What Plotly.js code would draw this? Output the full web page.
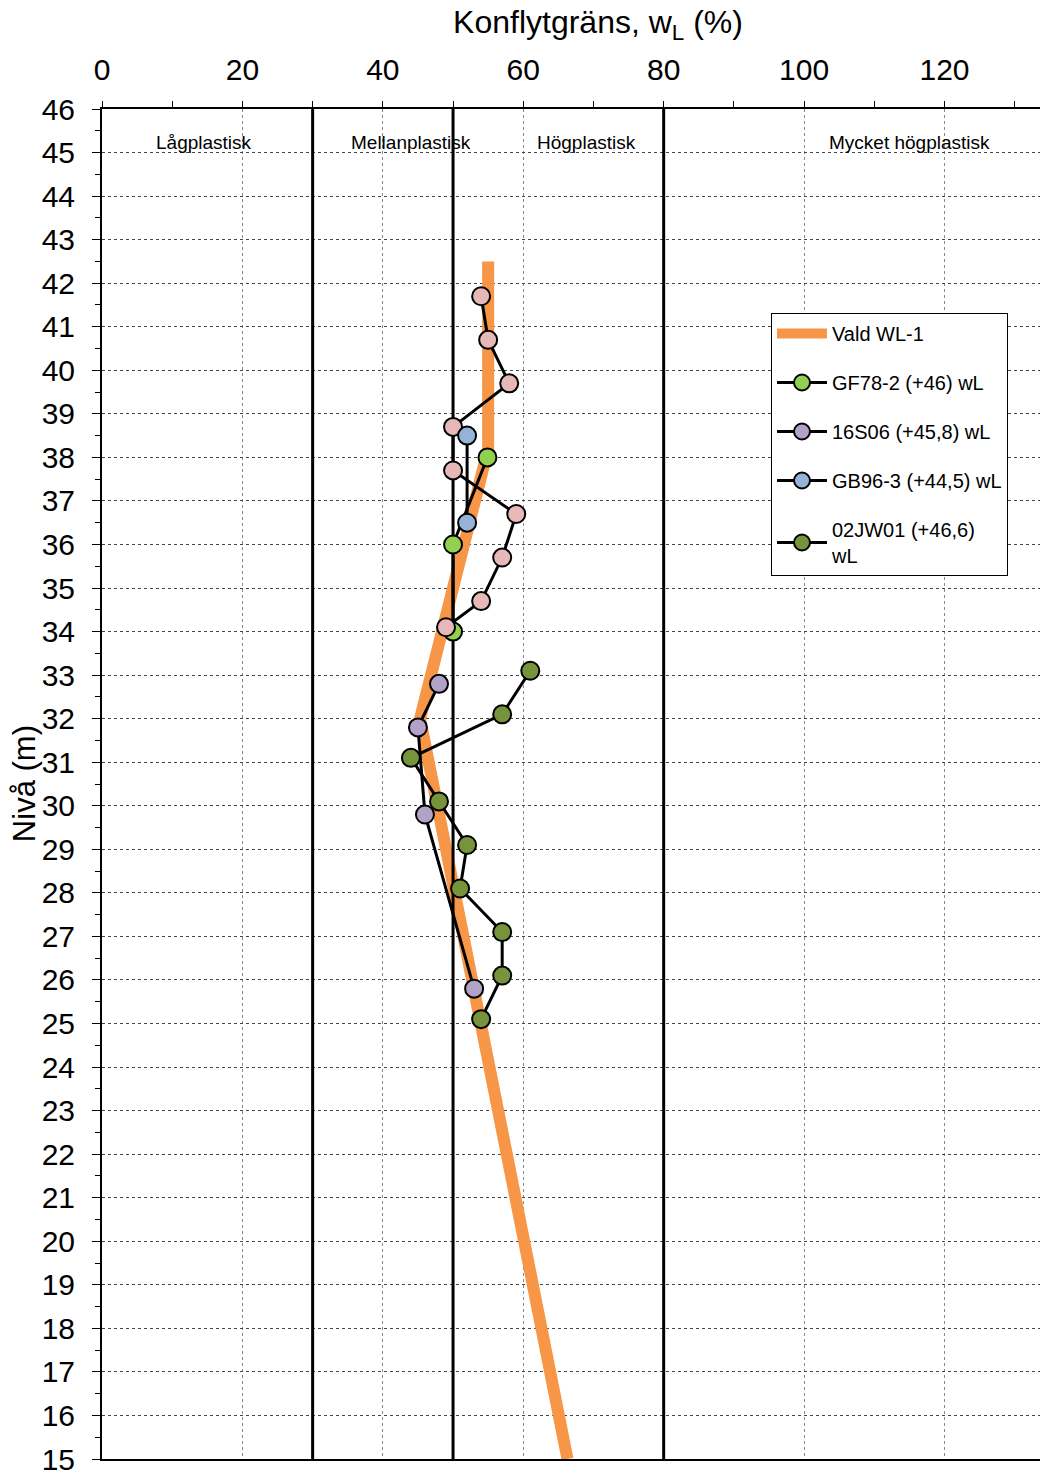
<!DOCTYPE html>
<html><head><meta charset="utf-8">
<script src="https://cdn.plot.ly/plotly-3.0.1.min.js"></script>
<style>html,body{margin:0;padding:0;background:#fff}#chart{width:1040px;height:1471px}</style>
</head><body><div id="chart"></div>
<script>
// ---- data ----
const valdX = [55, 55, 45.3, 66.3];
const valdY = [42.5, 38.2, 32, 15];

const gf78X = [54.9, 50, 50];
const gf78Y = [38, 36, 34];

const s16X = [48, 45, 46, 53];
const s16Y = [32.8, 31.8, 29.8, 25.8];

const gb96X = [52, 52];
const gb96Y = [38.5, 36.5];

const jw01X = [61, 57, 44, 48, 52, 51, 57, 57, 54];
const jw01Y = [33.1, 32.1, 31.1, 30.1, 29.1, 28.1, 27.1, 26.1, 25.1];

const pinkX = [54, 55, 58, 50, 50, 59, 57, 54, 49];
const pinkY = [41.7, 40.7, 39.7, 38.7, 37.7, 36.7, 35.7, 34.7, 34.1];

const boundaries = [30, 50, 80];
const levelRange = [15, 46];

const regionLabels = ["Lågplastisk", "Mellanplastisk", "Högplastisk", "Mycket högplastisk"];
const regionX = [14.5, 44, 69, 115];
const regionY = 45.22;

const names = ["Vald WL-1", "GF78-2 (+46) wL", "16S06 (+45,8) wL", "GB96-3 (+44,5) wL", "02JW01 (+46,6)<br>wL"];

// ---- traces ----
const traces = [];
traces.push({x: valdX, y: valdY, mode: 'lines', name: names[0], legendgroup: 'a',
  line: {color: '#F79646', width: 12}});
boundaries.forEach(b => traces.push({x: [b, b], y: levelRange, mode: 'lines', showlegend: false,
  hoverinfo: 'skip', line: {color: '#000', width: 3}}));
function series(x, y, name, color, grp, show) {
  return {x: x, y: y, mode: 'lines+markers', name: name, legendgroup: grp, showlegend: show,
    line: {color: '#000', width: 3},
    marker: {size: 18, color: color, line: {color: '#000', width: 2}}};
}
traces.push(series(gf78X, gf78Y, names[1], '#92D050', 'b', true));
traces.push(series(pinkX, pinkY, 'wL', '#E6B9B8', 'p', false));
traces.push(series(s16X, s16Y, names[2], '#B3A2C7', 'c', true));
traces.push(series(gb96X, gb96Y, names[3], '#95B3D7', 'd', true));
traces.push(series(jw01X, jw01Y, names[4], '#77933C', 'e', true));

const annotations = regionLabels.map((t, i) => ({
  x: regionX[i], y: regionY, xref: 'x', yref: 'y', text: t, showarrow: false,
  font: {family: 'Liberation Sans, Arial, sans-serif', size: 19, color: '#000'}
}));
annotations.push({xref: 'paper', yref: 'paper', x: -0.083, y: 0.5, text: 'Nivå (m)', textangle: -90,
  showarrow: false, xanchor: 'center', yanchor: 'middle',
  font: {family: 'Liberation Sans, Arial, sans-serif', size: 31, color: '#000'}});

const layout = {
  width: 1040, height: 1471,
  margin: {l: 102, r: 0, t: 109, b: 12},
  paper_bgcolor: '#fff', plot_bgcolor: '#fff',
  showlegend: true,
  font: {family: 'Liberation Sans, Arial, sans-serif', color: '#000'},
  title: {text: 'Konflytgräns, w<sub>L</sub> (%)', x: 0.575, xref: 'container', xanchor: 'center',
    y: 1 - 22/1471, yref: 'container', yanchor: 'middle',
    font: {size: 32, color: '#000'}},
  xaxis: {side: 'top', range: [0, 133.6], dtick: 20, tick0: 0, showgrid: true,
    gridcolor: '#888', griddash: 'dot', gridwidth: 1,
    ticks: 'outside', ticklen: 6, tickwidth: 1, tickcolor: '#000',
    minor: {dtick: 10, ticks: 'outside', ticklen: 6, tickcolor: '#000', showgrid: false},
    showline: true, linecolor: '#000', linewidth: 2, mirror: true,
    zeroline: false, ticklabelstandoff: 9, ticklabeloverflow: 'allow',
    tickfont: {size: 30, color: '#000'}},
  yaxis: {range: levelRange, dtick: 1, tick0: 15, showgrid: true,
    gridcolor: '#444', griddash: 'dot', gridwidth: 1,
    ticks: 'outside', ticklen: 8, tickwidth: 1, tickcolor: '#000',
    minor: {dtick: 0.5, ticks: 'outside', ticklen: 5, tickcolor: '#000', showgrid: false},
    showline: true, linecolor: '#000', linewidth: 2, zeroline: false,
    ticklabelstandoff: 11, ticklabeloverflow: 'allow',
    tickfont: {size: 30, color: '#000'}},
  legend: {x: (771-102)/938, y: 1 - (313-109)/1350, xanchor: 'left', yanchor: 'top',
    bgcolor: '#fff', bordercolor: '#000', borderwidth: 1,
    traceorder: 'grouped', tracegroupgap: 20, itemwidth: 50,
    font: {family: 'Liberation Sans, Arial, sans-serif', size: 20, color: '#000'}},
  annotations: annotations
};

Plotly.newPlot('chart', traces, layout, {displayModeBar: false, staticPlot: true});
</script></body></html>
